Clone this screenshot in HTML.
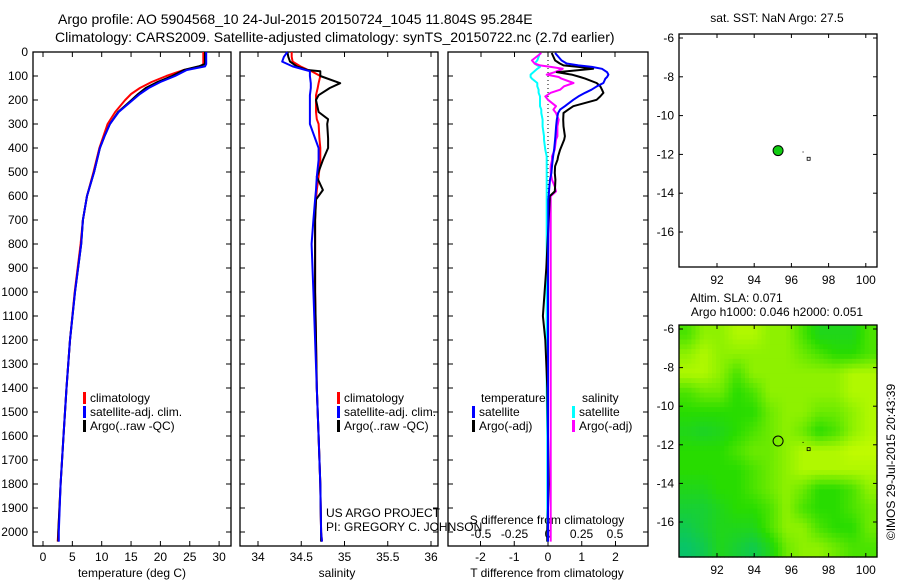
<!DOCTYPE html>
<html><head><meta charset="utf-8"><style>
html,body{margin:0;padding:0;background:#fff;}
svg{display:block;font-family:"Liberation Sans",sans-serif;}
text{font-size:12px;fill:#000;}
text.ttl{font-size:14px;}
</style></head><body>
<svg id="fig" width="900" height="580" viewBox="0 0 900 580">
<text class="ttl" x="58" y="24">Argo profile: AO 5904568_10 24-Jul-2015 20150724_1045 11.804S 95.284E</text>
<text class="ttl" x="55" y="42">Climatology: CARS2009. Satellite-adjusted climatology: synTS_20150722.nc (2.7d earlier)</text>
</svg>
<script>
// ---- data ----
const depthsT = [0,50,60,75,100,125,150,175,200,250,300,350,400,500,600,700,800,1000,1200,1400,1600,1800,2000,2040];
const tempArgo = [27.6,27.6,26.5,24,22,19.5,17.5,16.2,15.1,12.8,11.4,10.5,9.7,8.7,7.5,6.8,6.5,5.45,4.6,4.0,3.5,3.0,2.6,2.6];
const tempClim = [27.3,27.3,26.8,24,21,18.5,16.5,15,14.0,12.3,11.0,10.3,9.6,8.6,7.5,6.8,6.4,5.4,4.6,4.0,3.5,3.0,2.6,2.5];
const tempSat  = [27.8,27.8,27.6,24.5,22.5,20,18,16.5,15.3,12.9,11.4,10.5,9.7,8.7,7.5,6.8,6.5,5.45,4.6,4.0,3.5,3.0,2.7,2.7];
const depthsS = [0,20,40,60,75,80,100,130,150,180,200,250,280,300,360,400,450,520,575,615,700,800,1000,1200,1400,1600,1800,2000,2040];
const salArgo = [34.34,34.35,34.37,34.45,34.57,34.72,34.72,34.95,34.83,34.7,34.67,34.7,34.81,34.8,34.81,34.81,34.75,34.68,34.75,34.67,34.66,34.66,34.66,34.67,34.68,34.7,34.72,34.73,34.73];
const salClim = [34.39,34.39,34.4,34.49,34.58,34.62,34.72,34.7,34.69,34.67,34.67,34.67,34.68,34.7,34.71,34.72,34.72,34.7,34.68,34.67,34.66,34.66,34.66,34.67,34.68,34.7,34.72,34.73,34.74];
const salSat  = [34.34,34.3,34.28,34.4,34.55,34.6,34.6,34.61,34.61,34.6,34.6,34.6,34.6,34.6,34.66,34.7,34.7,34.68,34.67,34.66,34.64,34.62,34.64,34.66,34.68,34.7,34.72,34.73,34.74];
const depthsD = [4,35,48,56,62,70,84,94,104,111,129,143,157,170,185,199,226,240,254,282,310,351,365,407,435,449,476,504,532,560,581,601,615,700,900,1000,1100,1200,1400,1600,1800,2000,2040];
const dTsat  = [0.21,0.4,0.55,0.9,1.3,1.6,1.75,1.79,1.75,1.7,1.64,1.45,1.29,1.1,0.9,0.75,0.5,0.36,0.3,0.26,0.24,0.22,0.21,0.18,0.15,0.14,0.12,0.1,0.06,0.04,0.03,0.02,0.01,0.01,0.0,0.0,0.0,0.0,0.0,0.0,0.0,0.0,0.0];
const dTargo = [0.11,0.21,0.35,0.46,0.9,1.34,0.26,0.7,0.95,1.1,1.44,1.55,1.6,1.64,1.55,1.44,0.75,0.6,0.46,0.45,0.46,0.5,0.48,0.36,0.3,0.28,0.21,0.2,0.22,0.21,0.2,0.05,0.05,0.02,-0.05,-0.1,-0.15,-0.08,-0.02,0.0,0.02,-0.02,-0.02];
const dSsat  = [-0.06,-0.08,-0.1,-0.08,-0.06,-0.08,-0.11,-0.13,-0.13,-0.12,-0.08,-0.08,-0.07,-0.07,-0.06,-0.06,-0.06,-0.05,-0.05,-0.04,-0.04,-0.03,-0.03,-0.02,-0.01,-0.01,-0.01,-0.01,-0.01,-0.01,-0.01,-0.01,-0.01,-0.01,-0.01,-0.01,-0.01,-0.01,-0.01,-0.005,-0.005,-0.005,-0.005];
const dSargo = [-0.05,-0.12,-0.1,-0.06,0.02,0.11,0.05,-0.01,0.08,0.1,0.19,0.12,0.09,0.02,-0.02,0.0,0.06,0.04,0.06,0.08,0.07,0.07,0.06,0.05,0.03,0.03,0.02,0.02,0.03,0.05,0.06,0.02,0.02,0.02,0.02,0.02,0.02,0.02,0.02,0.02,0.02,0.02,0.02];
const depthTicks = [0,100,200,300,400,500,600,700,800,900,1000,1100,1200,1300,1400,1500,1600,1700,1800,1900,2000];
const tempTicks = [0,5,10,15,20,25,30];
const salTicks = [34,34.5,35,35.5,36];
const tdiffTicks = [-2,-1,0,1,2];
const sdiffTicks = [-0.5,-0.25,0,0.25,0.5];
const lonTicks = [92,94,96,98,100];
const latTicks = [-6,-8,-10,-12,-14,-16];
const argoLon = 95.284, argoLat = -11.804;
const slaGrid = [
[0.6,0.8,0.8,0.9,0.9,0.8,0.8,0.6,0.4,0.4,0.4,0.6],
[0.8,0.9,0.8,0.8,0.8,0.8,0.8,0.7,0.6,0.5,0.5,0.6],
[0.9,0.9,0.8,0.6,0.8,0.8,0.8,0.8,0.8,0.8,0.9,0.9],
[0.6,0.7,0.7,0.5,0.6,0.8,0.8,0.8,0.8,0.8,0.9,0.9],
[0.5,0.5,0.5,0.5,0.5,0.7,0.8,0.8,0.7,0.7,0.8,0.9],
[0.4,0.35,0.4,0.5,0.6,0.7,0.8,0.7,0.5,0.6,0.8,0.9],
[0.5,0.5,0.5,0.6,0.7,0.7,0.8,0.9,0.9,0.9,0.95,0.95],
[0.5,0.5,0.5,0.5,0.6,0.7,0.8,0.9,0.9,0.9,0.9,0.9],
[0.4,0.4,0.5,0.5,0.6,0.7,0.8,0.7,0.5,0.5,0.6,0.8],
[0.3,0.3,0.4,0.5,0.5,0.6,0.8,0.6,0.5,0.5,0.6,0.7],
[0.2,0.3,0.4,0.4,0.4,0.6,0.8,0.8,0.6,0.5,0.5,0.7],
[0.1,0.2,0.4,0.3,0.2,0.4,0.7,0.8,0.8,0.7,0.6,0.6]];

// ---- helpers ----
const NS = "http://www.w3.org/2000/svg";
const svg = document.getElementById('fig');
function mk(tag, attrs, parent){ const e=document.createElementNS(NS,tag); for(const k in attrs) e.setAttribute(k,attrs[k]); (parent||svg).appendChild(e); return e; }
function txt(x,y,s,anchor,parent){ const t=mk('text',{x:x,y:y,'text-anchor':anchor||'start'},parent); t.textContent=s; return t; }

const Y0=52, YS=0.24;
const yD = d => Y0 + d*YS;
const xT = t => 43 + t*5.87;
const xS = s => 258 + (s-34)*86.5;
const xDT = v => 548 + v*33.75;
const xDS = v => 548 + v*134;
const xLon = lon => 717 + (lon-92)*18.6;
const yLatTop = lat => 38 + (-6-lat)*19.4;
const yLatBot = lat => 329 + (-6-lat)*19.3;

function frame(x0,x1,y0,y1,name){
  const r=mk('rect',{x:x0,y:y0,width:x1-x0,height:y1-y0,fill:'none',stroke:'#000','stroke-width':1.3});
  
  
}
function line(xs, ys, color, name, w){
  let d='';
  for(let i=0;i<xs.length;i++) d += (i?'L':'M')+xs[i].toFixed(1)+','+ys[i].toFixed(1);
  const p=mk('path',{d:d,fill:'none',stroke:color,'stroke-width':w||2,'stroke-linejoin':'round'});
  
  
}
function depthAxis(x0,x1,labels){
  depthTicks.forEach(d=>{
    const y=yD(d);
    mk('line',{x1:x0,y1:y,x2:x0+5,y2:y,stroke:'#000'});
    mk('line',{x1:x1-5,y1:y,x2:x1,y2:y,stroke:'#000'});
    if(labels){ const t=txt(28,y+4,String(d),'end');
      
       }
  });
}

// Panel 1 temperature
frame(33,231,52,546,'temperature-panel');
depthAxis(33,231,true);
tempTicks.forEach(v=>{ const x=xT(v);
  mk('line',{x1:x,y1:546,x2:x,y2:541,stroke:'#000'}); mk('line',{x1:x,y1:52,x2:x,y2:57,stroke:'#000'});
  const t=txt(x,561,String(v),'middle');
  
   });
const tl=txt(132,577,'temperature (deg C)','middle');


line(tempClim.map(xT), depthsT.map(yD), '#f00', 'temp-climatology-line');
line(tempArgo.map(xT), depthsT.map(yD), '#000', 'temp-argo-line');
line(tempSat.map(xT), depthsT.map(yD), '#00f', 'temp-satellite-line');

// Panel 2 salinity
frame(240,438,52,546,'salinity-panel');
depthAxis(240,438,false);
salTicks.forEach(v=>{ const x=xS(v);
  mk('line',{x1:x,y1:546,x2:x,y2:541,stroke:'#000'}); mk('line',{x1:x,y1:52,x2:x,y2:57,stroke:'#000'});
  const t=txt(x,561,String(v),'middle');
  
   });
const sl=txt(337,577,'salinity','middle');


line(salClim.map(xS), depthsS.map(yD), '#f00', 'sal-climatology-line');
line(salArgo.map(xS), depthsS.map(yD), '#000', 'sal-argo-line');
line(salSat.map(xS), depthsS.map(yD), '#00f', 'sal-satellite-line');

// Panel 3 differences
frame(448,648,52,546,'difference-panel');
depthAxis(448,648,false);
tdiffTicks.forEach(v=>{ const x=xDT(v);
  mk('line',{x1:x,y1:546,x2:x,y2:541,stroke:'#000'});
  const t=txt(x,561,String(v),'middle');
  
   });
sdiffTicks.forEach(v=>{ const x=xDS(v);
  mk('line',{x1:x,y1:52,x2:x,y2:57,stroke:'#000'});
  const t=txt(x,538,String(v),'middle');
  
   });
const dl=txt(547,577,'T difference from climatology','middle');


const dsl=txt(547,524,'S difference from climatology','middle');


mk('line',{x1:548,y1:52,x2:548,y2:546,stroke:'#000','stroke-dasharray':'1,3'});
line(dSsat.map(xDS), depthsD.map(yD), '#0ff', 'sdiff-satellite-line');
line(dSargo.map(xDS), depthsD.map(yD), '#f0f', 'sdiff-argo-line');
line(dTargo.map(xDT), depthsD.map(yD), '#000', 'tdiff-argo-line');
line(dTsat.map(xDT), depthsD.map(yD), '#00f', 'tdiff-satellite-line');

// legends
function legItem(x,y,color,label,name){
  const g=mk('g',{});
  
  
  mk('rect',{x:x,y:y-10,width:3,height:12,fill:color},g);
  txt(x+7,y,label,'start',g);
}
legItem(83,402,'#f00','climatology','legend-climatology');
legItem(83,416,'#00f','satellite-adj. clim.','legend-satellite-adj');
legItem(83,430,'#000','Argo(..raw -QC)','legend-argo');
legItem(337,402,'#f00','climatology','legend2-climatology');
legItem(337,416,'#00f','satellite-adj. clim.','legend2-satellite-adj');
legItem(337,430,'#000','Argo(..raw -QC)','legend2-argo');
const lt=txt(481,402,'temperature');  
const ls=txt(582,402,'salinity');  
legItem(472,416,'#00f','satellite','legend-t-satellite');
legItem(472,430,'#000','Argo(-adj)','legend-t-argo');
legItem(572,416,'#0ff','satellite','legend-s-satellite');
legItem(572,430,'#f0f','Argo(-adj)','legend-s-argo');
const pr1=txt(326,517,'US ARGO PROJECT');  
const pr2=txt(326,531,'PI: GREGORY C. JOHNSON');  

// Top map
const st=txt(777,22,'sat. SST: NaN Argo: 27.5','middle');  
function mapAxes(x0,x1,y0,y1,yfun){
  latTicks.forEach(v=>{ const y=yfun(v);
    mk('line',{x1:x0,y1:y,x2:x0+4,y2:y,stroke:'#000'}); mk('line',{x1:x1-4,y1:y,x2:x1,y2:y,stroke:'#000'});
    const t=txt(x0-5,y+4,String(v),'end');
    
     });
  lonTicks.forEach(v=>{ const x=xLon(v);
    mk('line',{x1:x,y1:y1,x2:x,y2:y1-4,stroke:'#000'}); mk('line',{x1:x,y1:y0,x2:x,y2:y0+4,stroke:'#000'});
    const t=txt(x,y1+17,String(v),'middle');
    
     });
}
frame(679,877,34,267,'sst-map-panel');
mapAxes(679,877,34,267,yLatTop);
const m1=mk('circle',{cx:xLon(argoLon),cy:yLatTop(argoLat),r:5,fill:'#1c1',stroke:'#000','stroke-width':1});


mk('rect',{x:xLon(96.6),y:yLatTop(-11.85),width:1,height:1,fill:'#000'});
mk('rect',{x:xLon(96.9)-1,y:yLatTop(-12.2)-1,width:3,height:3,fill:'none',stroke:'#000','stroke-width':0.8});

// Bottom map
const a1=txt(690,302,'Altim. SLA: 0.071');  
const a2=txt(777,316,'Argo h1000: 0.046 h2000: 0.051','middle');  
function slaColor(v){
  let r,g,b;
  if(v<0.5){ const f=v/0.5; r=0+40*f; g=190+30*f; b=130-130*f; }
  else { const f=(v-0.5)/0.5; r=40+170*f; g=220+35*f; b=0; }
  return 'rgb('+Math.round(r)+','+Math.round(g)+','+Math.round(b)+')';
}
const gx0=679, gx1=877, gy0=325, gy1=557;
const nR=slaGrid.length, nC=slaGrid[0].length;
const UP=4;
const sR=nR*UP, sC=nC*UP;
const cw=(gx1-gx0)/sC, ch=(gy1-gy0)/sR;
function sample(fi,fj){
  fi=Math.max(0,Math.min(nR-1,fi)); fj=Math.max(0,Math.min(nC-1,fj));
  const i0=Math.floor(fi), j0=Math.floor(fj), i1=Math.min(nR-1,i0+1), j1=Math.min(nC-1,j0+1);
  const a=fi-i0, b=fj-j0;
  return (1-a)*((1-b)*slaGrid[i0][j0]+b*slaGrid[i0][j1]) + a*((1-b)*slaGrid[i1][j0]+b*slaGrid[i1][j1]);
}
for(let i=0;i<sR;i++) for(let j=0;j<sC;j++){
  const v=sample((i+0.5)/UP-0.5,(j+0.5)/UP-0.5);
  const c=mk('rect',{x:gx0+j*cw,y:gy0+i*ch,width:cw+0.6,height:ch+0.6,fill:slaColor(v)});
  
  
}
frame(679,877,325,557,'sla-map-panel');
mapAxes(679,877,325,557,yLatBot);
const m2=mk('circle',{cx:xLon(argoLon),cy:yLatBot(argoLat),r:5,fill:'none',stroke:'#000','stroke-width':1});


mk('rect',{x:xLon(96.6),y:yLatBot(-11.85),width:1,height:1,fill:'#000'});
mk('rect',{x:xLon(96.9)-1,y:yLatBot(-12.2)-1,width:3,height:3,fill:'none',stroke:'#000','stroke-width':0.8});
const cr=txt(0,0,'©IMOS 29-Jul-2015 20:43:39','middle');
cr.setAttribute('transform','translate(895,462) rotate(-90)');


</script>
</body></html>
